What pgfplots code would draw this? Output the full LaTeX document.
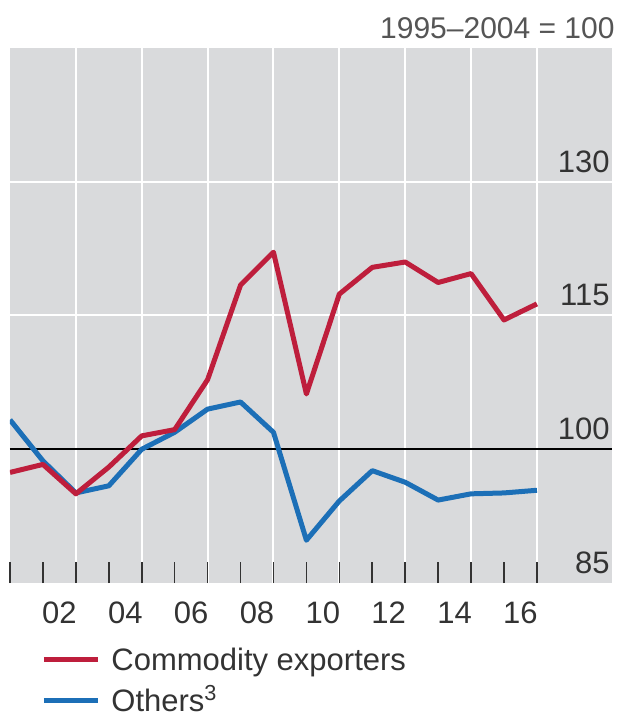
\documentclass[border=0pt]{standalone}
\usepackage{fontspec}
\setmainfont{Liberation Sans}
\usepackage{pgfplots}
\pgfplotsset{compat=1.18}
\definecolor{panel}{HTML}{D9DADC}
\definecolor{cred}{HTML}{BE1E3C}
\definecolor{cblue}{HTML}{1C6FB7}
\definecolor{txt}{HTML}{333333}
\definecolor{ttl}{HTML}{555555}
\begin{document}
\begin{tikzpicture}
\useasboundingbox (-5pt,-66pt) rectangle (305pt,291.5pt);
\begin{axis}[
  at={(0,0)}, anchor=south west,
  scale only axis, width=301pt, height=267.5pt,
  xmin=2001, xmax=2019.28, ymin=85, ymax=145,
  axis background/.style={fill=panel},
  axis line style={draw=none},
  font=\fontsize{15.5}{18}\selectfont,
  xtick={2003,2005,2007,2009,2011,2013,2015,2017},
  minor xtick={2001,2002,2004,2006,2008,2010,2012,2014,2016},
  xticklabels={},
  extra x ticks={2002.5,2004.5,2006.5,2008.5,2010.5,2012.5,2014.5,2016.5},
  extra x tick labels={02,04,06,08,10,12,14,16},
  extra x tick style={major tick length=0pt, grid=none,
     xticklabel style={text=txt, yshift=-6pt}},
  xtick pos=bottom, tick align=inside,
  major tick length=10.5pt, minor tick length=10.5pt,
  tick style={line width=0.8pt, color=txt},
  xmajorgrids, ymajorgrids,
  major grid style={white, line width=1pt},
  ytick={115,130},
  yticklabels={115,130},
  extra y ticks={85,100},
  extra y tick labels={85,100},
  extra y tick style={grid=none},
  ytick style={draw=none},
  yticklabel pos=right,
  yticklabel style={anchor=south east, inner sep=0pt, xshift=-1pt, yshift=4.5pt, text=txt},
  reverse legend,
  legend cell align=left,
  legend image code/.code={\draw[#1] (0pt,0pt) -- (27pt,0pt);},
  legend style={at={(rel axis cs:0,0)}, anchor=north west, xshift=15.5pt, yshift=-31.5pt,
     draw=none, fill=none, inner sep=0pt, row sep=7.5pt,
     nodes={text height=11pt, text depth=0pt, inner sep=1pt, text=txt},
     /tikz/every odd column/.append style={column sep=4.5pt}},
]
\addplot[black, line width=1pt, forget plot] coordinates {(2001,100) (2019.28,100)};
\addplot[cblue, line width=2.5pt, line join=round] coordinates {
(2001,103.3) (2002,98.7) (2003,95.1) (2004,95.9) (2005,100.0) (2006,101.9)
(2007,104.5) (2008,105.3) (2009,101.9) (2010,89.8) (2011,94.2) (2012,97.6)
(2013,96.3) (2014,94.3) (2015,95.0) (2016,95.1) (2017,95.4)};
\addlegendentry{Others\textsuperscript{3}}
\addplot[cred, line width=2.5pt, line join=round] coordinates {
(2001,97.4) (2002,98.3) (2003,95.0) (2004,98.0) (2005,101.5) (2006,102.2)
(2007,107.8) (2008,118.4) (2009,122.1) (2010,106.2) (2011,117.4) (2012,120.4)
(2013,121.0) (2014,118.7) (2015,119.7) (2016,114.5) (2017,116.3)};
\addlegendentry{Commodity exporters}
\end{axis}
\node[anchor=east, inner sep=0pt, text=ttl, font=\fontsize{15}{18}\selectfont] at (302.5pt,277.5pt) {1995–2004 = 100};
\end{tikzpicture}
\end{document}
